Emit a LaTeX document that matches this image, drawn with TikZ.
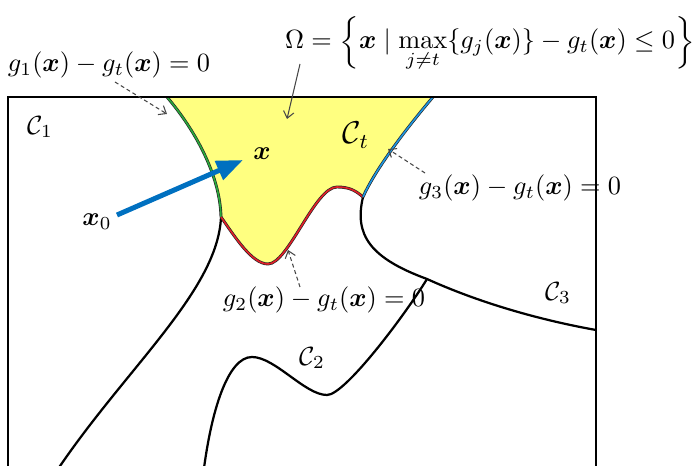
\documentclass[tikz,border=0pt]{standalone}
\usepackage{amsmath,amssymb,bm,graphicx}
\usetikzlibrary{arrows.meta}
\newcommand{\shortlbrace}{\mathopen{\scalebox{1}[0.83]{$\biggl\{$}}}
\newcommand{\shortrbrace}{\mathclose{\scalebox{1}[0.83]{$\biggr\}$}}}
\definecolor{regyellow}{RGB}{255,255,128}
\definecolor{bndgreen}{RGB}{40,170,60}
\definecolor{bndred}{RGB}{225,30,40}
\definecolor{bndblue}{RGB}{30,150,225}
\definecolor{arrblue}{RGB}{0,112,192}
\definecolor{leadgray}{RGB}{70,70,70}
\tikzset{
  curve/.style={line width=0.85pt, black},
  frameline/.style={line width=1pt, black},
  under/.style={line width=1.1pt, black!85},
  over/.style={line width=0.6pt},
  lead/.style={leadgray, line width=0.4pt, -{Straight Barb[length=2.5pt,width=4pt]}},
  dashedlead/.style={lead, dash pattern=on 1.5pt off 1.1pt},
  lbl/.style={inner sep=0pt},
  movearrow/.style={arrblue, line width=1.9pt, -{Triangle[length=10pt,width=7.5pt]}},
}
\begin{document}
\begin{tikzpicture}[x=0.38pt,y=-0.38pt]
\useasboundingbox (0,0) rectangle (694,466);
\clip (0,0) rectangle (694,466);
% key points
\coordinate (A) at (167,97);
\coordinate (F) at (433,97);
\coordinate (B) at (221,217);
\coordinate (D) at (268,264);
\coordinate (E) at (337,187);
\coordinate (C) at (363,197);
\coordinate (H) at (427,279);
\coordinate (P) at (252,357);
\coordinate (T) at (327,395);
\coordinate (G) at (203,476);
\coordinate (L2) at (58,469);
\coordinate (R3) at (596,330);
\coordinate (FL) at (8,470);
\coordinate (FTL) at (8,97);
\coordinate (FTR) at (596,97);
\coordinate (FR) at (596,470);
% region C_t
\fill[regyellow] (A) -- (F) .. controls (405,130) and (375,170) .. (C)
  .. controls (356,191) and (350,187) .. (E)
  .. controls (315,187) and (288,264) .. (D)
  .. controls (252,264) and (235,237) .. (B)
  .. controls (220,175) and (195,130) .. (A) -- cycle;
% black boundaries
\draw[curve] (B) .. controls (218,290) and (127,367) .. (L2);
\draw[curve] (G) .. controls (211,410) and (228,357) .. (P)
  .. controls (275,357) and (305,395) .. (T)
  .. controls (345,395) and (405,315) .. (H);
\draw[curve] (C) .. controls (354,235) and (370,258) .. (H) .. controls (480,303) and (540,320) .. (R3);
% coloured boundaries
\draw[under] (A) .. controls (195,130) and (220,175) .. (B);
\draw[over,bndgreen] (A) .. controls (195,130) and (220,175) .. (B);
\draw[under] (B) .. controls (235,237) and (252,264) .. (D) .. controls (288,264) and (315,187) .. (E) .. controls (350,187) and (356,191) .. (C);
\draw[over,bndred] (B) .. controls (235,237) and (252,264) .. (D) .. controls (288,264) and (315,187) .. (E) .. controls (350,187) and (356,191) .. (C);
\draw[under] (C) .. controls (375,170) and (405,130) .. (F);
\draw[over,bndblue] (C) .. controls (375,170) and (405,130) .. (F);
% frame
\draw[frameline] (FL) -- (FTL) -- (FTR) -- (FR);
% labels
\node[lbl] (g1lbl) at (109,65) {$g_1(\bm{x})-g_t(\bm{x})=0$};
\node[lbl] (omega) at (490,44) {$\displaystyle \Omega=\shortlbrace\bm{x}\mid\max_{j\neq t}\{g_j(\bm{x})\}-g_t(\bm{x})\le 0\shortrbrace$};
\node[lbl] (c1) at (40,127) {$\mathcal{C}_1$};
\node[lbl] (x0lbl) at (97,222) {$\bm{x}_0$};
\node[lbl] (xlbl) at (262,154) {$\bm{x}$};
\node[lbl,font=\large] (ctlbl) at (356,135) {$\mathcal{C}_t$};
\node[lbl] (g3lbl) at (520,188) {$g_3(\bm{x})-g_t(\bm{x})=0$};
\node[lbl] (g2lbl) at (324,300) {$g_2(\bm{x})-g_t(\bm{x})=0$};
\node[lbl] (c3lbl) at (558,293) {$\mathcal{C}_3$};
\node[lbl] (c2lbl) at (312,358) {$\mathcal{C}_2$};
% arrows
\coordinate (x0s) at (117,215);
\coordinate (xt) at (243,160);
\draw[movearrow] (x0s) -- (xt);
\coordinate (g1s) at (115,82);
\coordinate (g1e) at (167,114);
\draw[dashedlead] (g1s) -- (g1e);
\coordinate (oms) at (300,64);
\coordinate (ome) at (287,119);
\draw[lead] (oms) -- (ome);
\coordinate (g3s) at (425,173);
\coordinate (g3e) at (388,149);
\draw[dashedlead] (g3s) -- (g3e);
\coordinate (g2s) at (300,287);
\coordinate (g2e) at (288,250);
\draw[dashedlead] (g2s) -- (g2e);
\end{tikzpicture}
\end{document}
